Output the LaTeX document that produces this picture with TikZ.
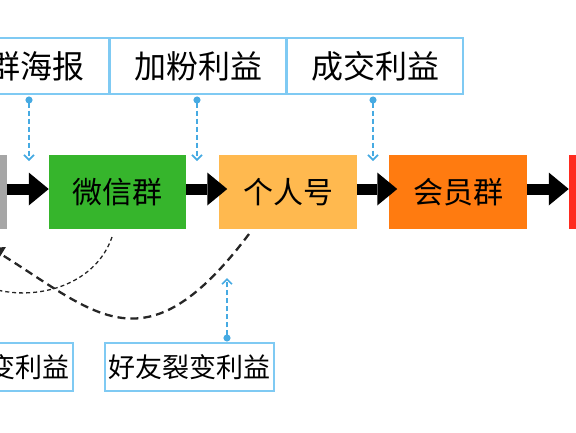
\documentclass[tikz,border=0pt]{standalone}
\usepackage{fontspec}
\newfontfamily\cjk{Noto Sans CJK SC}
\usetikzlibrary{arrows.meta,positioning}

\definecolor{srcgrey}{HTML}{A6A6A6}
\definecolor{grpgreen}{HTML}{36B52C}
\definecolor{ownyellow}{HTML}{FFB94F}
\definecolor{viporange}{HTML}{FF7B10}
\definecolor{peakred}{HTML}{FF2B1F}
\definecolor{perkline}{HTML}{7FCAF3}
\definecolor{hintblue}{HTML}{46AAE2}

\begin{document}
\begin{tikzpicture}[
    x=1pt, y=-1pt,
    node distance=33pt,
    stage/.style={rectangle, minimum width=137.5pt, minimum height=74pt, inner sep=0pt, outer sep=0pt, font=\cjk\fontsize{30}{36}\selectfont},
    perk/.style={rectangle, draw=perkline, line width=1.2pt, fill=white, minimum width=176pt, minimum height=56pt, inner sep=0pt, outer sep=0pt, font=\cjk\fontsize{32}{38}\selectfont},
    share/.style={perk, minimum width=169pt, minimum height=48pt, font=\cjk\fontsize{27}{32}\selectfont},
    flow/.style={line width=11pt, -{Triangle[length=20pt, width=33pt, line width=0pt]}},
    hint/.style={draw=hintblue, line width=1.6pt, dash pattern=on 5pt off 3pt, {Circle[length=7pt]}-{Straight Barb[length=5pt, width=10pt]}},
    backflow/.style={draw=black!85, line width=2.3pt, dash pattern=on 8pt off 5pt, -{Latex[length=16pt, width=18pt]}},
    backflowthin/.style={draw=black!85, line width=1.3pt, dash pattern=on 4pt off 3pt, -{Latex[length=10pt, width=8pt]}}
]
    \useasboundingbox (0,0) rectangle (576,432);
    \clip (0,0) rectangle (576,432);

    % funnel
    \node[stage, fill=grpgreen] (grn) at (117.5,192) {微信群};
    \node[stage, fill=srcgrey, left=42pt of grn] (src) {};
    \node[stage, fill=ownyellow, right=33pt of grn] (own) {个人号};
    \node[stage, fill=viporange, right=32.5pt of own] (vip) {会员群};
    \node[stage, fill=peakred, right=42pt of vip] (peak) {};

    \draw[flow] ([yshift=3pt]src.east) -- ([yshift=3pt]grn.west);
    \draw[flow, shorten >=-8pt] ([yshift=3pt]grn.east) -- ([yshift=3pt]own.west);
    \draw[flow, shorten >=-8pt] ([yshift=3pt]own.east) -- ([yshift=3pt]vip.west);
    \draw[flow] ([yshift=3pt]vip.east) -- ([yshift=3pt]peak.west);

    % back to the source
    \draw[backflowthin] ([xshift=-5.5pt,yshift=-8pt]grn.south) .. controls (87,310) and (-35,310) .. ([xshift=1.5pt,yshift=-8pt]src.south);
    \draw[backflow] ([xshift=-39pt,yshift=-5pt]own.south) .. controls (145,372) and (96,313) .. ([xshift=-19pt,yshift=-17pt]src.south east);

    % perks
    \node[perk] (t1) at (21,66) {\phantom{群}群海报};
    \node[perk, right=1pt of t1] (t2) {加粉利益};
    \node[perk, right=1pt of t2] (t3) {成交利益};
    \node[share] (b1) at (-11.5,367) {\phantom{群群群}变利益};
    \node[share, right=32pt of b1] (b2) {好友裂变利益};

    \coordinate (gap1) at (29,161);
    \coordinate (gap2) at (197,161);
    \coordinate (gap3) at (373,161);
    \coordinate (lift) at (227,278);
    \foreach \t/\g in {t1/gap1, t2/gap2, t3/gap3}
        \draw[hint, shorten <=2.5pt] (\t.south -| \g) -- (\g);
    \draw[hint, shorten <=1.5pt] (b2.north -| lift) -- (lift);
\end{tikzpicture}
\end{document}
